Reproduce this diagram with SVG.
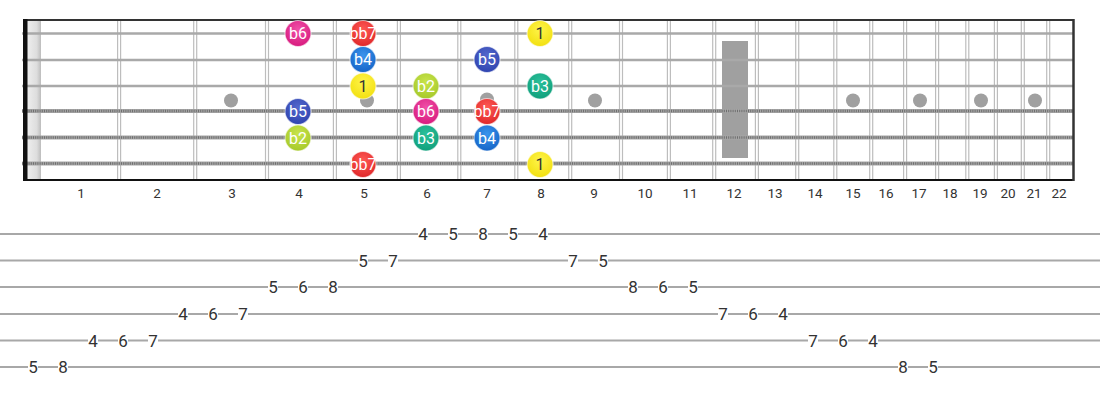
<svg xmlns="http://www.w3.org/2000/svg" width="1100" height="400" viewBox="0 0 1100 400">
<defs>
<style>
.fret{stroke:#bdbdbd;stroke-width:1.2;fill:none}
.plain{stroke:#a9a9a9;stroke-width:2.6}
.woundA{stroke:#a5a5a5;stroke-width:4}
.woundB{stroke:#6e6e6e;stroke-width:2.6;stroke-dasharray:1 1.2}
.inlay{fill:#a0a0a0}
.fn{font-family:Roboto,"Liberation Sans",sans-serif;font-size:13.5px;fill:#333;text-anchor:middle}
.nt{font-family:Roboto,"Liberation Sans",sans-serif;font-size:16px;fill:#fff;text-anchor:middle;dominant-baseline:central}
.nt.dk{fill:#333}
.tl{stroke:#a8a8a8;stroke-width:2}
.td{font-family:Roboto,"Open Sans","Liberation Sans",sans-serif;font-size:17px;fill:#333;text-anchor:middle;dominant-baseline:central}
.tb{fill:#fff}
</style>
<radialGradient id="gPink" cx="50%" cy="35%" r="65%"><stop offset="0" stop-color="#f050a8"/><stop offset="1" stop-color="#d81b7e"/></radialGradient>
<radialGradient id="gRed" cx="50%" cy="35%" r="65%"><stop offset="0" stop-color="#ff5a55"/><stop offset="1" stop-color="#e0282a"/></radialGradient>
<radialGradient id="gBlue" cx="50%" cy="35%" r="65%"><stop offset="0" stop-color="#3a94ec"/><stop offset="1" stop-color="#1565c8"/></radialGradient>
<radialGradient id="gIndigo" cx="50%" cy="35%" r="65%"><stop offset="0" stop-color="#5468cc"/><stop offset="1" stop-color="#2f44b0"/></radialGradient>
<radialGradient id="gYellow" cx="50%" cy="35%" r="65%"><stop offset="0" stop-color="#fff44a"/><stop offset="1" stop-color="#f2e010"/></radialGradient>
<radialGradient id="gLime" cx="50%" cy="35%" r="65%"><stop offset="0" stop-color="#c8e44c"/><stop offset="1" stop-color="#a6c92a"/></radialGradient>
<radialGradient id="gTeal" cx="50%" cy="35%" r="65%"><stop offset="0" stop-color="#2cc09a"/><stop offset="1" stop-color="#10a07c"/></radialGradient>
<linearGradient id="gNut" x1="0" y1="0" x2="1" y2="0"><stop offset="0" stop-color="#eeeeee"/><stop offset="0.7" stop-color="#dddddd"/><stop offset="1" stop-color="#bdbdbd"/></linearGradient>
</defs>
<rect x="0" y="0" width="1100" height="400" fill="#fff"/>

<g id="fretboard">
<rect x="27" y="20" width="14" height="160" fill="url(#gNut)"/>
<g id="frets">
<line class="fret" x1="117.6" y1="20" x2="117.6" y2="180"/><line class="fret" x1="120.6" y1="20" x2="120.6" y2="180"/>
<line class="fret" x1="193.7" y1="20" x2="193.7" y2="180"/><line class="fret" x1="196.7" y1="20" x2="196.7" y2="180"/>
<line class="fret" x1="265.5" y1="20" x2="265.5" y2="180"/><line class="fret" x1="268.5" y1="20" x2="268.5" y2="180"/>
<line class="fret" x1="333.4" y1="20" x2="333.4" y2="180"/><line class="fret" x1="336.4" y1="20" x2="336.4" y2="180"/>
<line class="fret" x1="397.4" y1="20" x2="397.4" y2="180"/><line class="fret" x1="400.4" y1="20" x2="400.4" y2="180"/>
<line class="fret" x1="457.8" y1="20" x2="457.8" y2="180"/><line class="fret" x1="460.8" y1="20" x2="460.8" y2="180"/>
<line class="fret" x1="514.8" y1="20" x2="514.8" y2="180"/><line class="fret" x1="517.8" y1="20" x2="517.8" y2="180"/>
<line class="fret" x1="568.7" y1="20" x2="568.7" y2="180"/><line class="fret" x1="571.7" y1="20" x2="571.7" y2="180"/>
<line class="fret" x1="619.5" y1="20" x2="619.5" y2="180"/><line class="fret" x1="622.5" y1="20" x2="622.5" y2="180"/>
<line class="fret" x1="667.4" y1="20" x2="667.4" y2="180"/><line class="fret" x1="670.4" y1="20" x2="670.4" y2="180"/>
<line class="fret" x1="712.7" y1="20" x2="712.7" y2="180"/><line class="fret" x1="715.7" y1="20" x2="715.7" y2="180"/>
<line class="fret" x1="755.4" y1="20" x2="755.4" y2="180"/><line class="fret" x1="758.4" y1="20" x2="758.4" y2="180"/>
<line class="fret" x1="795.7" y1="20" x2="795.7" y2="180"/><line class="fret" x1="798.7" y1="20" x2="798.7" y2="180"/>
<line class="fret" x1="833.8" y1="20" x2="833.8" y2="180"/><line class="fret" x1="836.8" y1="20" x2="836.8" y2="180"/>
<line class="fret" x1="869.7" y1="20" x2="869.7" y2="180"/><line class="fret" x1="872.7" y1="20" x2="872.7" y2="180"/>
<line class="fret" x1="903.6" y1="20" x2="903.6" y2="180"/><line class="fret" x1="906.6" y1="20" x2="906.6" y2="180"/>
<line class="fret" x1="935.6" y1="20" x2="935.6" y2="180"/><line class="fret" x1="938.6" y1="20" x2="938.6" y2="180"/>
<line class="fret" x1="965.8" y1="20" x2="965.8" y2="180"/><line class="fret" x1="968.8" y1="20" x2="968.8" y2="180"/>
<line class="fret" x1="994.4" y1="20" x2="994.4" y2="180"/><line class="fret" x1="997.4" y1="20" x2="997.4" y2="180"/>
<line class="fret" x1="1021.3" y1="20" x2="1021.3" y2="180"/><line class="fret" x1="1024.3" y1="20" x2="1024.3" y2="180"/>
<line class="fret" x1="1046.7" y1="20" x2="1046.7" y2="180"/><line class="fret" x1="1049.7" y1="20" x2="1049.7" y2="180"/>
</g>
<g id="inlays">
<circle class="inlay" cx="231" cy="100.5" r="7"/>
<circle class="inlay" cx="367" cy="100.5" r="7"/>
<circle class="inlay" cx="487" cy="99.5" r="7"/>
<circle class="inlay" cx="595" cy="100.5" r="7"/>
<rect class="inlay" x="722" y="41" width="26" height="117"/>
<circle class="inlay" cx="853" cy="100.5" r="7"/>
<circle class="inlay" cx="920" cy="100.5" r="7"/>
<circle class="inlay" cx="981" cy="100.5" r="7"/>
<circle class="inlay" cx="1035" cy="100.5" r="7"/>
</g>
<g id="strings">
<line class="plain" x1="22" y1="33.5" x2="1074" y2="33.5"/>
<line class="plain" x1="22" y1="60" x2="1074" y2="60"/>
<line class="plain" x1="22" y1="86" x2="1074" y2="86"/>
<line class="woundA" x1="22" y1="111" x2="1074" y2="111"/><line class="woundB" x1="22" y1="111" x2="1074" y2="111"/>
<line class="woundA" x1="22" y1="137.5" x2="1074" y2="137.5"/><line class="woundB" x1="22" y1="137.5" x2="1074" y2="137.5"/>
<line class="woundA" x1="22" y1="163.5" x2="1074" y2="163.5"/><line class="woundB" x1="22" y1="163.5" x2="1074" y2="163.5"/>
</g>
<line x1="23" y1="20" x2="1074" y2="20" stroke="#333" stroke-width="2"/>
<line x1="23" y1="180" x2="1074" y2="180" stroke="#111" stroke-width="2"/>
<line x1="1073.5" y1="19" x2="1073.5" y2="181" stroke="#333" stroke-width="2.5"/>
<rect x="23" y="19" width="4.5" height="162" fill="#111"/>
</g>

<g id="fret-numbers">
<text class="fn" x="81" y="198">1</text>
<text class="fn" x="157" y="198">2</text>
<text class="fn" x="232" y="198">3</text>
<text class="fn" x="299" y="198">4</text>
<text class="fn" x="364" y="198">5</text>
<text class="fn" x="427" y="198">6</text>
<text class="fn" x="487" y="198">7</text>
<text class="fn" x="541" y="198">8</text>
<text class="fn" x="594" y="198">9</text>
<text class="fn" x="645" y="198">10</text>
<text class="fn" x="690" y="198">11</text>
<text class="fn" x="734" y="198">12</text>
<text class="fn" x="775" y="198">13</text>
<text class="fn" x="815" y="198">14</text>
<text class="fn" x="853" y="198">15</text>
<text class="fn" x="886" y="198">16</text>
<text class="fn" x="919" y="198">17</text>
<text class="fn" x="950" y="198">18</text>
<text class="fn" x="980" y="198">19</text>
<text class="fn" x="1008" y="198">20</text>
<text class="fn" x="1034" y="198">21</text>
<text class="fn" x="1059" y="198">22</text>
</g>

<g id="notes" stroke="#ffffff" stroke-opacity="0.6" stroke-width="1.2">
<g id="n-s1-f4"><circle cx="298" cy="33.5" r="13" fill="url(#gPink)"/><text class="nt" x="298" y="33.5" stroke="none">b6</text></g>
<g id="n-s1-f5"><circle cx="363" cy="33.5" r="13" fill="url(#gRed)"/><text class="nt" x="363" y="33.5" stroke="none">bb7</text></g>
<g id="n-s1-f8"><circle cx="540" cy="33.5" r="13" fill="url(#gYellow)"/><text class="nt dk" x="540" y="33.5" stroke="none">1</text></g>
<g id="n-s2-f5"><circle cx="363" cy="59.5" r="13" fill="url(#gBlue)"/><text class="nt" x="363" y="59.5" stroke="none">b4</text></g>
<g id="n-s2-f7"><circle cx="487" cy="59.5" r="13" fill="url(#gIndigo)"/><text class="nt" x="487" y="59.5" stroke="none">b5</text></g>
<g id="n-s3-f5"><circle cx="363" cy="86" r="13" fill="url(#gYellow)"/><text class="nt dk" x="363" y="86" stroke="none">1</text></g>
<g id="n-s3-f6"><circle cx="426" cy="86" r="13" fill="url(#gLime)"/><text class="nt" x="426" y="86" stroke="none">b2</text></g>
<g id="n-s3-f8"><circle cx="540" cy="86" r="13" fill="url(#gTeal)"/><text class="nt" x="540" y="86" stroke="none">b3</text></g>
<g id="n-s4-f4"><circle cx="298" cy="111.5" r="13" fill="url(#gIndigo)"/><text class="nt" x="298" y="111.5" stroke="none">b5</text></g>
<g id="n-s4-f6"><circle cx="426" cy="111.5" r="13" fill="url(#gPink)"/><text class="nt" x="426" y="111.5" stroke="none">b6</text></g>
<g id="n-s4-f7"><circle cx="487" cy="111.5" r="13" fill="url(#gRed)"/><text class="nt" x="487" y="111.5" stroke="none">bb7</text></g>
<g id="n-s5-f4"><circle cx="298" cy="138" r="13" fill="url(#gLime)"/><text class="nt" x="298" y="138" stroke="none">b2</text></g>
<g id="n-s5-f6"><circle cx="426" cy="138" r="13" fill="url(#gTeal)"/><text class="nt" x="426" y="138" stroke="none">b3</text></g>
<g id="n-s5-f7"><circle cx="487" cy="138" r="13" fill="url(#gBlue)"/><text class="nt" x="487" y="138" stroke="none">b4</text></g>
<g id="n-s6-f5"><circle cx="363" cy="164.5" r="13" fill="url(#gRed)"/><text class="nt" x="363" y="164.5" stroke="none">bb7</text></g>
<g id="n-s6-f8"><circle cx="540" cy="164.5" r="13" fill="url(#gYellow)"/><text class="nt dk" x="540" y="164.5" stroke="none">1</text></g>
</g>

<g id="tab-lines">
<line class="tl" x1="0" y1="234" x2="1100" y2="234"/>
<line class="tl" x1="0" y1="260.5" x2="1100" y2="260.5"/>
<line class="tl" x1="0" y1="287" x2="1100" y2="287"/>
<line class="tl" x1="0" y1="314" x2="1100" y2="314"/>
<line class="tl" x1="0" y1="340.5" x2="1100" y2="340.5"/>
<line class="tl" x1="0" y1="367" x2="1100" y2="367"/>
</g>

<g id="tab-notes">
<g><rect class="tb" x="28" y="359" width="10" height="16"/><text class="td" x="33" y="367">5</text></g>
<g><rect class="tb" x="58" y="359" width="10" height="16"/><text class="td" x="63" y="367">8</text></g>
<g><rect class="tb" x="88" y="332.5" width="10" height="16"/><text class="td" x="93" y="340.5">4</text></g>
<g><rect class="tb" x="118" y="332.5" width="10" height="16"/><text class="td" x="123" y="340.5">6</text></g>
<g><rect class="tb" x="148" y="332.5" width="10" height="16"/><text class="td" x="153" y="340.5">7</text></g>
<g><rect class="tb" x="178" y="306" width="10" height="16"/><text class="td" x="183" y="314">4</text></g>
<g><rect class="tb" x="208" y="306" width="10" height="16"/><text class="td" x="213" y="314">6</text></g>
<g><rect class="tb" x="238" y="306" width="10" height="16"/><text class="td" x="243" y="314">7</text></g>
<g><rect class="tb" x="268" y="279" width="10" height="16"/><text class="td" x="273" y="287">5</text></g>
<g><rect class="tb" x="298" y="279" width="10" height="16"/><text class="td" x="303" y="287">6</text></g>
<g><rect class="tb" x="328" y="279" width="10" height="16"/><text class="td" x="333" y="287">8</text></g>
<g><rect class="tb" x="358" y="252.5" width="10" height="16"/><text class="td" x="363" y="260.5">5</text></g>
<g><rect class="tb" x="388" y="252.5" width="10" height="16"/><text class="td" x="393" y="260.5">7</text></g>
<g><rect class="tb" x="418" y="226" width="10" height="16"/><text class="td" x="423" y="234">4</text></g>
<g><rect class="tb" x="448" y="226" width="10" height="16"/><text class="td" x="453" y="234">5</text></g>
<g><rect class="tb" x="478" y="226" width="10" height="16"/><text class="td" x="483" y="234">8</text></g>
<g><rect class="tb" x="508" y="226" width="10" height="16"/><text class="td" x="513" y="234">5</text></g>
<g><rect class="tb" x="538" y="226" width="10" height="16"/><text class="td" x="543" y="234">4</text></g>
<g><rect class="tb" x="568" y="252.5" width="10" height="16"/><text class="td" x="573" y="260.5">7</text></g>
<g><rect class="tb" x="598" y="252.5" width="10" height="16"/><text class="td" x="603" y="260.5">5</text></g>
<g><rect class="tb" x="628" y="279" width="10" height="16"/><text class="td" x="633" y="287">8</text></g>
<g><rect class="tb" x="658" y="279" width="10" height="16"/><text class="td" x="663" y="287">6</text></g>
<g><rect class="tb" x="688" y="279" width="10" height="16"/><text class="td" x="693" y="287">5</text></g>
<g><rect class="tb" x="718" y="306" width="10" height="16"/><text class="td" x="723" y="314">7</text></g>
<g><rect class="tb" x="748" y="306" width="10" height="16"/><text class="td" x="753" y="314">6</text></g>
<g><rect class="tb" x="778" y="306" width="10" height="16"/><text class="td" x="783" y="314">4</text></g>
<g><rect class="tb" x="808" y="332.5" width="10" height="16"/><text class="td" x="813" y="340.5">7</text></g>
<g><rect class="tb" x="838" y="332.5" width="10" height="16"/><text class="td" x="843" y="340.5">6</text></g>
<g><rect class="tb" x="868" y="332.5" width="10" height="16"/><text class="td" x="873" y="340.5">4</text></g>
<g><rect class="tb" x="898" y="359" width="10" height="16"/><text class="td" x="903" y="367">8</text></g>
<g><rect class="tb" x="928" y="359" width="10" height="16"/><text class="td" x="933" y="367">5</text></g>
</g>
</svg>
